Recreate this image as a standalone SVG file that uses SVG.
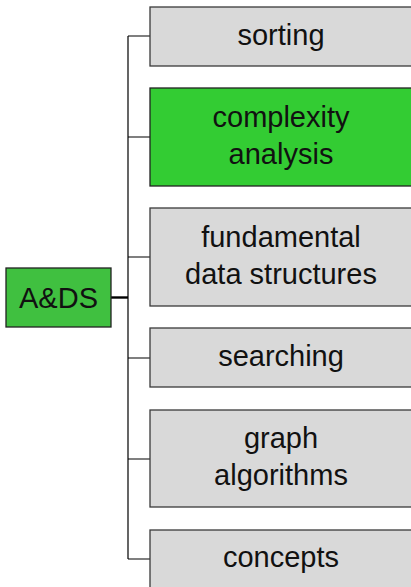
<svg xmlns="http://www.w3.org/2000/svg" width="411" height="587" viewBox="0 0 411 587">
<style>
.box{fill:#d9d9d9;stroke:#3a3a3a;stroke-width:1.3}
.hl{fill:#33cc33;stroke:#222;stroke-width:1.3}
.root{fill:#40c040;stroke:#222;stroke-width:1.3}
.t{font-family:"Liberation Sans","DejaVu Sans",sans-serif;font-size:29px;fill:#111;text-anchor:middle}
.c{fill:none;stroke:#000;stroke-width:1.2}
.thick{stroke-width:2.4}
</style>
<rect width="411" height="587" fill="#fff"/>
<g id="connectors">
<path class="c" d="M128,36V559M128,36H150M128,137H150M128,257H150M128,358H150M128,459H150M128,559H150"/>
<path class="c thick" d="M111,297.5H128"/>
</g>
<g id="root"><rect class="root" x="6" y="268" width="105" height="59"/><text class="t" x="58.5" y="307.5">A&amp;DS</text></g>
<g id="sorting"><rect class="box" x="150" y="7" width="270" height="59"/><text class="t" x="281" y="45">sorting</text></g>
<g id="complexity"><rect class="hl" x="150" y="88" width="270" height="98"/><text class="t" x="281" y="127">complexity</text><text class="t" x="281" y="164">analysis</text></g>
<g id="fundamental"><rect class="box" x="150" y="208" width="270" height="98"/><text class="t" x="281" y="247">fundamental</text><text class="t" x="281" y="284">data structures</text></g>
<g id="searching"><rect class="box" x="150" y="328" width="270" height="59"/><text class="t" x="281" y="366">searching</text></g>
<g id="graph"><rect class="box" x="150" y="410" width="270" height="97"/><text class="t" x="281" y="448">graph</text><text class="t" x="281" y="485">algorithms</text></g>
<g id="concepts"><rect class="box" x="150" y="530" width="270" height="70"/><text class="t" x="281" y="567">concepts</text></g>
</svg>
